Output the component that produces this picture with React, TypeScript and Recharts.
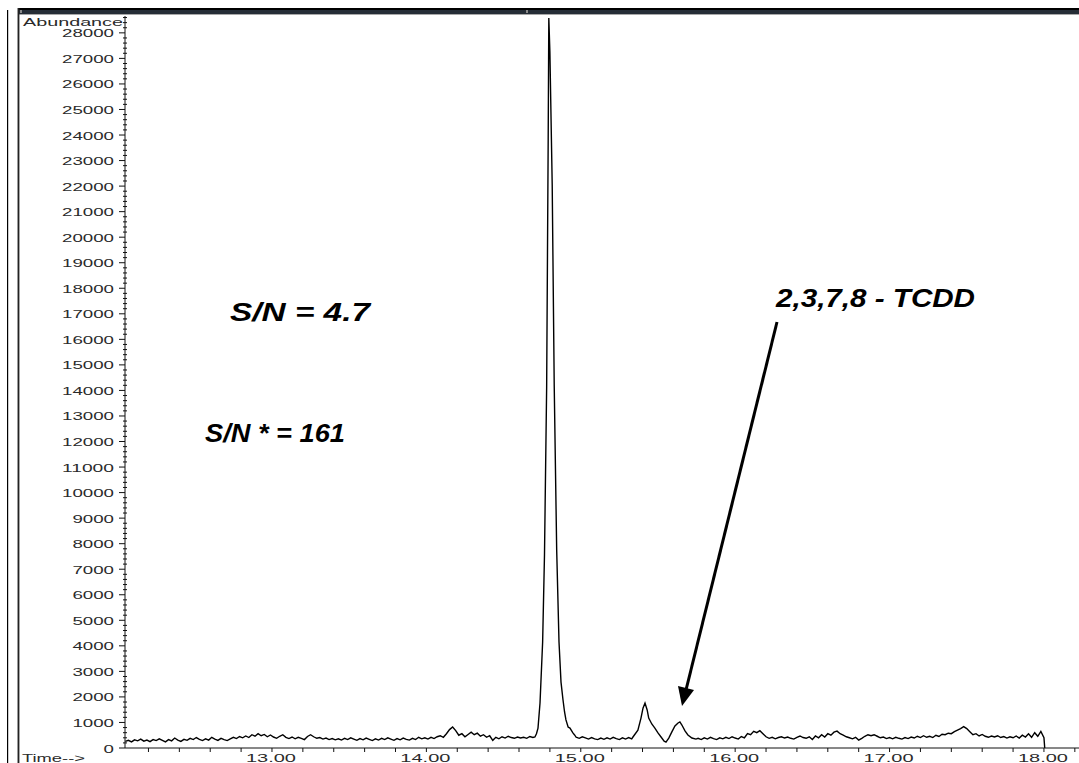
import { LineChart, Line, XAxis, YAxis } from 'recharts';

// [time (min), abundance] pairs
const baselineEarly: [number, number][] = [
  [12.05, 260], [12.07, 300], [12.09, 240], [12.11, 320], [12.13, 280], [12.15, 350], [12.17, 270],
  [12.19, 310], [12.21, 250], [12.23, 330], [12.25, 290], [12.27, 360], [12.29, 300], [12.31, 240],
  [12.33, 330], [12.35, 280], [12.37, 390], [12.39, 310], [12.41, 260], [12.43, 340], [12.45, 300],
  [12.47, 380], [12.49, 330], [12.51, 410], [12.53, 340], [12.55, 290], [12.57, 360], [12.59, 310],
  [12.61, 420], [12.63, 350], [12.65, 300], [12.67, 380], [12.69, 330], [12.71, 290], [12.73, 360],
  [12.75, 420], [12.77, 370], [12.79, 450], [12.81, 400], [12.83, 470], [12.85, 410], [12.87, 520],
  [12.89, 460], [12.91, 560], [12.93, 480], [12.95, 530], [12.97, 440], [12.99, 510], [13.01, 430],
  [13.03, 380], [13.05, 460], [13.07, 520], [13.09, 420], [13.11, 370], [13.13, 430], [13.15, 360],
  [13.17, 420], [13.19, 380], [13.21, 330], [13.23, 450], [13.25, 520], [13.27, 440], [13.29, 380],
  [13.31, 410], [13.33, 350], [13.35, 390], [13.37, 330], [13.39, 370], [13.41, 320], [13.43, 360],
  [13.45, 310], [13.47, 380], [13.49, 330], [13.51, 400], [13.53, 350], [13.55, 300], [13.57, 370],
  [13.59, 320], [13.61, 390], [13.63, 340], [13.65, 290], [13.67, 360], [13.69, 310], [13.71, 380],
  [13.73, 330], [13.75, 400], [13.77, 350], [13.79, 300], [13.81, 370], [13.83, 320], [13.85, 390],
  [13.87, 340], [13.89, 310], [13.91, 380], [13.93, 330], [13.95, 420], [13.97, 360], [13.99, 400],
  [14.01, 350], [14.03, 420], [14.05, 370], [14.07, 440], [14.09, 480], [14.11, 420], [14.13, 560],
  [14.15, 720], [14.17, 820], [14.19, 680], [14.21, 500], [14.23, 560], [14.25, 440], [14.27, 530],
  [14.29, 620], [14.31, 520], [14.33, 580], [14.35, 460], [14.37, 520], [14.39, 420], [14.41, 480],
  [14.43, 300], [14.45, 420], [14.47, 360], [14.49, 440], [14.51, 390], [14.53, 460], [14.55, 410],
  [14.57, 380], [14.59, 430], [14.61, 390], [14.63, 420], [14.65, 380], [14.67, 450], [14.69, 410],
];

const mainPeak: [number, number][] = [
  [14.703, 430], [14.713, 560], [14.723, 780], [14.736, 1760], [14.753, 4150], [14.765, 7560],
  [14.779, 14130], [14.789, 23840], [14.793, 28580], [14.8, 27250], [14.815, 22040], [14.828, 14210],
  [14.844, 7750], [14.859, 4150], [14.872, 2580], [14.885, 1880], [14.895, 1410], [14.904, 1100],
  [14.918, 820], [14.93, 780], [14.949, 590], [14.96, 510],
];

const baselineMid: [number, number][] = [
  [14.97, 420], [14.99, 380], [15.01, 440], [15.03, 400], [15.05, 350], [15.07, 410], [15.09, 360],
  [15.11, 330], [15.13, 390], [15.15, 340], [15.17, 400], [15.19, 350], [15.21, 420], [15.23, 370],
  [15.25, 330], [15.27, 400], [15.29, 350], [15.31, 410], [15.33, 360],
];

const tcddRegion: [number, number][] = [
  [15.338, 430], [15.37, 700], [15.39, 1170], [15.403, 1560], [15.416, 1760], [15.43, 1490],
  [15.44, 1170], [15.46, 940], [15.48, 780], [15.5, 590], [15.52, 430], [15.54, 270], [15.552, 230],
  [15.57, 390], [15.59, 630], [15.61, 860], [15.63, 980], [15.642, 1020], [15.655, 900], [15.675, 670],
  [15.694, 510], [15.72, 390], [15.746, 350],
];

const baselineLate: [number, number][] = [
  [15.76, 380], [15.78, 330], [15.8, 400], [15.82, 350], [15.84, 420], [15.86, 370], [15.88, 330],
  [15.9, 400], [15.92, 360], [15.94, 420], [15.96, 370], [15.98, 440], [16.0, 390], [16.02, 350],
  [16.04, 450], [16.06, 400], [16.08, 560], [16.1, 520], [16.12, 650], [16.14, 600], [16.16, 680],
  [16.18, 560], [16.2, 440], [16.22, 380], [16.24, 420], [16.26, 360], [16.28, 410], [16.3, 440],
  [16.32, 390], [16.34, 430], [16.36, 380], [16.38, 350], [16.4, 420], [16.42, 470], [16.44, 410],
  [16.46, 380], [16.48, 440], [16.5, 330], [16.52, 470], [16.54, 400], [16.56, 520], [16.58, 430],
  [16.6, 560], [16.62, 500], [16.64, 620], [16.66, 660], [16.68, 560], [16.7, 500], [16.72, 440],
  [16.74, 400], [16.76, 360], [16.78, 420], [16.8, 310], [16.82, 380], [16.84, 460], [16.86, 520],
  [16.88, 480], [16.9, 520], [16.92, 460], [16.94, 400], [16.96, 430], [16.98, 370], [17.0, 410],
  [17.02, 360], [17.04, 420], [17.06, 380], [17.08, 350], [17.1, 410], [17.12, 370], [17.14, 430],
  [17.16, 390], [17.18, 460], [17.2, 410], [17.22, 480], [17.24, 420], [17.26, 460], [17.28, 410],
  [17.3, 500], [17.32, 450], [17.34, 540], [17.36, 520], [17.38, 580], [17.4, 560], [17.42, 640],
  [17.44, 700], [17.46, 760], [17.48, 840], [17.5, 760], [17.52, 640], [17.54, 520], [17.56, 560],
  [17.58, 470], [17.6, 530], [17.62, 460], [17.64, 420], [17.66, 470], [17.68, 430], [17.7, 480],
  [17.72, 410], [17.74, 450], [17.76, 390], [17.78, 440], [17.8, 400], [17.82, 470], [17.84, 390],
  [17.86, 500], [17.88, 430], [17.9, 560], [17.92, 420], [17.94, 600], [17.96, 460], [17.98, 650],
  [18.0, 400], [18.005, 0],
];

const yTickValues = [
  0, 1000, 2000, 3000, 4000, 5000, 6000, 7000, 8000, 9000, 10000, 11000, 12000, 13000, 14000,
  15000, 16000, 17000, 18000, 19000, 20000, 21000, 22000, 23000, 24000, 25000, 26000, 27000, 28000,
];
const xTickValues = [13, 14, 15, 16, 17, 18];
const xTickLabels = ['13.00', '14.00', '15.00', '16.00', '17.00', '18.00'];

const data = [...baselineEarly, ...mainPeak, ...baselineMid, ...tcddRegion, ...baselineLate].map(
  ([t, v]) => ({ t, v })
);

// minor ticks: every 200 on abundance, every 0.2 min on time
const yMinor = Array.from({ length: 144 }, (_, i) => i * 200);
const xMinor = Array.from({ length: 31 }, (_, i) => Math.round(122 + i * 2) / 10);

const FONT = '"Liberation Sans", Arial, sans-serif';
const AXIS_X = 125;
const AXIS_Y = 748;

function YTick(props: any) {
  const { y, payload } = props;
  const val = payload.value as number;
  const major = yTickValues.includes(val);
  if (!major) {
    return <line x1={AXIS_X - 2} x2={AXIS_X + 2} y1={y} y2={y} stroke="#111" strokeWidth={1} />;
  }
  const label = String(val);
  return (
    <g>
      <line x1={AXIS_X - 6} x2={AXIS_X} y1={y} y2={y} stroke="#111" strokeWidth={1} />
      <text
        x={114}
        y={y + 4.5}
        textAnchor="end"
        fontFamily={FONT}
        fontSize={11}
        fill="#2a2a2a"
        textLength={label.length * 10.4}
        lengthAdjust="spacingAndGlyphs"
      >
        {label}
      </text>
    </g>
  );
}

function XTick(props: any) {
  const { x, payload } = props;
  const val = payload.value as number;
  const idx = xTickValues.findIndex((m) => Math.abs(m - val) < 1e-6);
  return (
    <g>
      <line x1={x} x2={x} y1={AXIS_Y} y2={AXIS_Y + 4} stroke="#111" strokeWidth={1} />
      {idx >= 0 && (
        <text
          x={x - 1}
          y={AXIS_Y + 14}
          textAnchor="middle"
          fontFamily={FONT}
          fontSize={11}
          fill="#2a2a2a"
          textLength={50}
          lengthAdjust="spacingAndGlyphs"
        >
          {xTickLabels[idx]}
        </text>
      )}
    </g>
  );
}

export default function App() {
  return (
    <div
      style={{
        position: 'absolute',
        left: 0,
        top: 0,
        width: 1079,
        height: 763,
        background: '#fff',
        overflow: 'hidden',
      }}
    >
      <LineChart width={1079} height={763} data={data} margin={{ top: 16, right: 0, left: 0, bottom: 0 }}>
        <XAxis
          dataKey="t"
          type="number"
          domain={[12.048, 18.227]}
          allowDataOverflow
          ticks={xMinor}
          interval={0}
          height={15}
          tickLine={false}
          axisLine={{ stroke: '#111', strokeWidth: 1 }}
          tick={<XTick />}
        />
        <YAxis
          type="number"
          domain={[0, 28660]}
          allowDataOverflow
          ticks={yMinor}
          interval={0}
          width={125}
          tickLine={false}
          axisLine={{ stroke: '#111', strokeWidth: 1 }}
          tick={<YTick />}
        />
        <Line
          type="linear"
          dataKey="v"
          stroke="#000"
          strokeWidth={1.4}
          dot={false}
          isAnimationActive={false}
        />
      </LineChart>

      <svg
        width={1079}
        height={763}
        style={{ position: 'absolute', left: 0, top: 0, pointerEvents: 'none' }}
      >
        {/* window frame */}
        <rect x={17} y={8} width={1062} height={2} fill="#000" />
        <rect x={17} y={10} width={1062} height={4} fill="#252d36" />
        <rect x={17} y={14} width={1062} height={1} fill="#a8a8a8" />
        <rect x={20} y={10} width={2} height={3} fill="#8a8a8a" />
        <rect x={526} y={10} width={2} height={3} fill="#8a8a8a" />
        <rect x={7} y={10} width={1.2} height={753} fill="#000" />
        <rect x={17} y={8} width={1} height={755} fill="#9a9a9a" />
        <rect x={18} y={8} width={1.4} height={755} fill="#222" />

        <text
          x={23}
          y={26}
          fontFamily={FONT}
          fontSize={11}
          fill="#2a2a2a"
          textLength={100}
          lengthAdjust="spacingAndGlyphs"
        >
          Abundance
        </text>
        <text
          x={22}
          y={762}
          fontFamily={FONT}
          fontSize={11}
          fill="#2a2a2a"
          textLength={63}
          lengthAdjust="spacingAndGlyphs"
        >
          Time--&gt;
        </text>

        {/* annotations */}
        <g fontFamily={FONT} fontSize={25} fontWeight="bold" fontStyle="italic" fill="#000">
          <text x={230} y={321} textLength={140} lengthAdjust="spacingAndGlyphs">
            S/N = 4.7
          </text>
          <text x={205} y={442} textLength={140} lengthAdjust="spacingAndGlyphs">
            S/N * = 161
          </text>
          <text x={776} y={307} textLength={199} lengthAdjust="spacingAndGlyphs">
            2,3,7,8 - TCDD
          </text>
        </g>
        <line x1={777} y1={322} x2={686} y2={690} stroke="#000" strokeWidth={3} />
        <polygon points="682,706 694,690 678,686" fill="#000" />
      </svg>
    </div>
  );
}
